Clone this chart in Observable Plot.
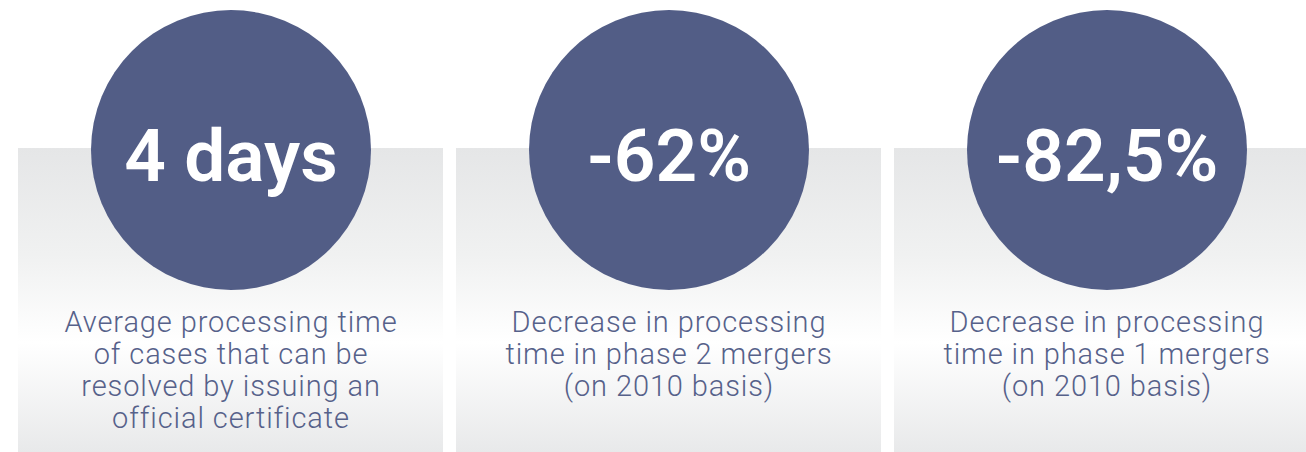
<!DOCTYPE html>
<html>
<head>
<meta charset="utf-8">
<script src="https://cdn.jsdelivr.net/npm/d3@7"></script>
<script src="https://cdn.jsdelivr.net/npm/@observablehq/plot@0.6"></script>
<style>
  html, body { margin: 0; padding: 0; background: #ffffff; }
  #chart svg { display: block; }
  #chart .desc text { letter-spacing: 0.9px; }
</style>
</head>
<body>
<div id="chart"></div>
<script>
// ---- data ----
const categories = ["cert", "phase2", "phase1"];
const values = ["4 days", "-62%", "-82,5%"];
const descriptions = [
  "Average processing time\nof cases that can be\nresolved by issuing an\nofficial certificate",
  "Decrease in processing\ntime in phase 2 mergers\n(on 2010 basis)",
  "Decrease in processing\ntime in phase 1 mergers\n(on 2010 basis)"
];

const rows = categories.map((c, i) => ({cat: c, value: values[i], desc: descriptions[i]}));

// ---- layout (vertical positions in pixel units of the y scale) ----
const W = 1306, H = 452;
const panelTop = 148, panelBottom = 452;
const circleY = 149.5;
const valueY = 157;
const descTop = 308.5;
const navy = "#525d86";

const defs = () => {
  const d = d3.create("svg:defs");
  const g = d.append("linearGradient")
    .attr("id", "panelGrad").attr("x1", 0).attr("y1", 0).attr("x2", 0).attr("y2", 1);
  g.append("stop").attr("offset", "0%").attr("stop-color", "#e5e6e7");
  g.append("stop").attr("offset", "35%").attr("stop-color", "#f0f1f1");
  g.append("stop").attr("offset", "64%").attr("stop-color", "#ffffff");
  g.append("stop").attr("offset", "100%").attr("stop-color", "#e8e9ea");
  return d.node();
};

const chart = Plot.plot({
  width: W,
  height: H,
  margin: 0,
  x: {type: "band", domain: categories, range: [18, 1319], paddingInner: 13 / 438, paddingOuter: 0, axis: null},
  y: {type: "linear", domain: [0, H], range: [0, H], axis: null},
  style: {background: "#ffffff", fontFamily: "Roboto, 'Open Sans', sans-serif"},
  marks: [
    defs,
    Plot.barY(rows, {x: "cat", y1: () => panelTop, y2: () => panelBottom, fill: "url(#panelGrad)"}),
    Plot.dot(rows, {x: "cat", y: () => circleY, r: 140, fill: navy, stroke: "none"}),
    Plot.text(rows, {
      x: "cat", y: () => valueY, text: "value",
      fill: "#ffffff", fontSize: 73, fontWeight: 600, textAnchor: "middle", lineAnchor: "middle",
      fontFamily: "Roboto"
    }),
    Plot.text(rows, {
      x: "cat", y: () => descTop, text: "desc", className: "desc",
      fill: "#56618a", fontSize: 29, fontWeight: 300, textAnchor: "middle", lineAnchor: "top",
      lineHeight: 32 / 29, fontFamily: "Roboto"
    })
  ]
});

document.getElementById("chart").appendChild(chart);
</script>
</body>
</html>
